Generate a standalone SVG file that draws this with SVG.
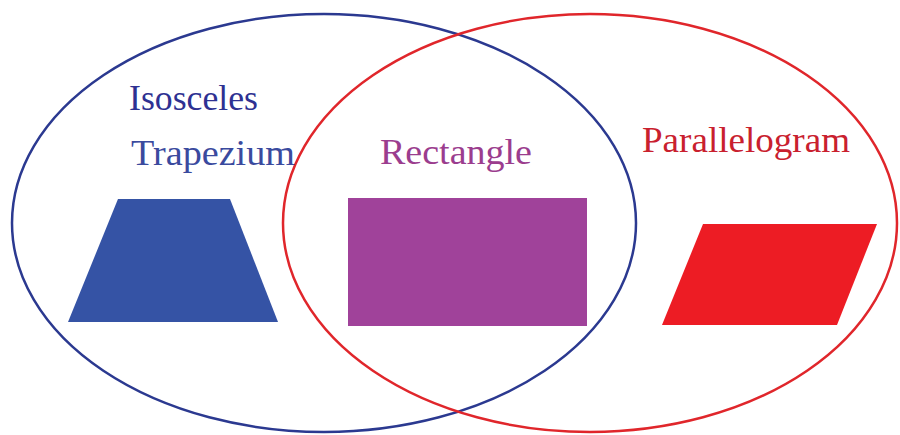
<svg xmlns="http://www.w3.org/2000/svg" width="900" height="435" viewBox="0 0 900 435">
<style>
  .lbl { font-family: "Liberation Serif", "Times New Roman", serif; font-size: 36px; }
  .ring { fill: none; stroke-width: 2.5; }
</style>
<rect width="900" height="435" fill="#ffffff"/>
<g id="shapes">
  <polygon id="trapezoid" points="118,199 230,199 278,322 68,322" fill="#3553A5"/>
  <rect id="rectangle" x="348" y="198" width="239" height="128" fill="#A0429A"/>
  <polygon id="parallelogram" points="703,224 877,224 837,325 662,325" fill="#ED1C24"/>
</g>
<g id="connectors">
  <ellipse id="blue-set" class="ring" cx="324" cy="223" rx="312" ry="209" stroke="#2B3990"/>
  <ellipse id="red-set" class="ring" cx="590" cy="223" rx="307" ry="209" stroke="#E0262B"/>
</g>
<g id="labels">
  <g id="isosceles-trapezium">
    <text class="lbl" x="129" y="110" fill="#2E3192" textLength="129" lengthAdjust="spacingAndGlyphs">Isosceles</text>
    <text class="lbl" x="131" y="165" fill="#3A4A9E" textLength="164" lengthAdjust="spacingAndGlyphs">Trapezium</text>
  </g>
  <text id="rectangle-label" class="lbl" x="380" y="164" fill="#9B3D8E" textLength="152" lengthAdjust="spacingAndGlyphs">Rectangle</text>
  <text id="parallelogram-label" class="lbl" x="642" y="152" fill="#C9202E" textLength="208" lengthAdjust="spacingAndGlyphs">Parallelogram</text>
</g>
</svg>
